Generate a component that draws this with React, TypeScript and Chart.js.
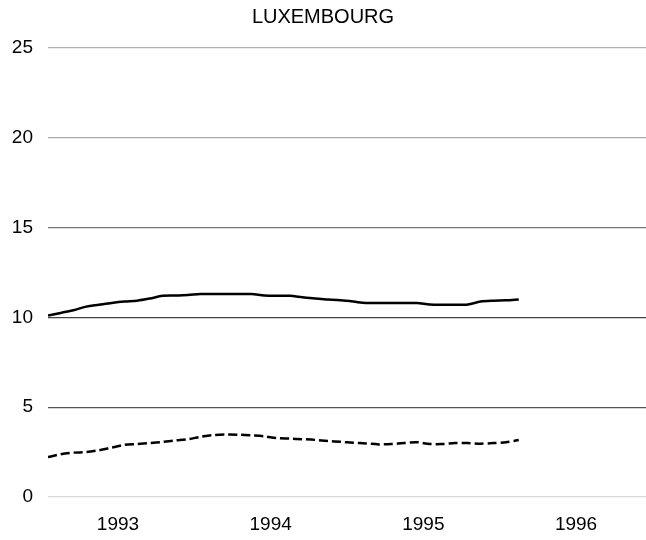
import React, { useEffect, useRef } from "react";
import { Chart, registerables } from "chart.js";

Chart.register(...registerables);

// Monthly observations, January 1993 to February 1996 (x = months since Jan 1993)
const solidValues = [
  10.1, 10.25, 10.4, 10.6, 10.7, 10.8, 10.88, 10.93, 11.05, 11.2,
  11.22, 11.25, 11.3, 11.3, 11.3, 11.3, 11.3, 11.22, 11.2, 11.2,
  11.12, 11.05, 11.0, 10.95, 10.88, 10.8, 10.8, 10.8, 10.8, 10.8,
  10.72, 10.7, 10.7, 10.72, 10.88, 10.93, 10.95, 11.0,
];
const dashedValues = [
  2.22, 2.38, 2.47, 2.5, 2.6, 2.75, 2.9, 2.95, 3.0, 3.07,
  3.15, 3.22, 3.35, 3.45, 3.48, 3.47, 3.43, 3.38, 3.28, 3.25,
  3.22, 3.18, 3.12, 3.07, 3.02, 2.98, 2.93, 2.95, 3.0, 3.05,
  2.95, 2.95, 3.0, 3.0, 2.97, 3.0, 3.05, 3.17,
];
const axisMonths = 47; // Jan 1993 .. Dec 1996
const yearTickPositions = [5.5, 17.5, 29.5, 41.5];
const yearTickLabels = ["1993", "1994", "1995", "1996"];
const yTicks = [0, 5, 10, 15, 20, 25];
const gridColors: Record<number, string> = {
  0: "#d8d8d8",
  5: "#555555",
  10: "#444444",
  15: "#777777",
  20: "#aaaaaa",
  25: "#b0b0b0",
};

const toPoints = (vals: number[]) => vals.map((v, i) => ({ x: i, y: v }));

export default function App() {
  const ref = useRef<HTMLCanvasElement | null>(null);
  useEffect(() => {
    if (!ref.current) return;
    const font = "'Liberation Sans', Arial, Helvetica, sans-serif";
    const chart = new Chart(ref.current, {
      type: "line",
      data: {
        datasets: [
          {
            data: toPoints(solidValues),
            borderColor: "#000",
            borderWidth: 2.5,
            pointRadius: 0,
            tension: 0.3,
          },
          {
            data: toPoints(dashedValues),
            borderColor: "#000",
            borderWidth: 2.5,
            borderDash: [9, 4],
            pointRadius: 0,
            tension: 0.3,
          },
        ],
      },
      options: {
        animation: false,
        responsive: false,
        layout: { padding: 0 },
        plugins: {
          legend: { display: false },
          tooltip: { enabled: false },
          title: {
            display: true,
            text: "LUXEMBOURG",
            color: "#000",
            font: { family: font, size: 20, weight: "normal", lineHeight: 1.2 },
            padding: { top: 5, bottom: 19 },
          },
        },
        scales: {
          x: {
            type: "linear",
            min: 0,
            max: axisMonths,
            grid: { display: false, drawTicks: false },
            border: { display: false },
            afterBuildTicks: (scale: any) => {
              scale.ticks = yearTickPositions.map((v) => ({ value: v }));
            },
            afterFit: (scale: any) => {
              scale.height = 43;
            },
            ticks: {
              autoSkip: false,
              maxRotation: 0,
              padding: 16,
              color: "#000",
              font: { family: font, size: 19 },
              callback: (v: any) => {
                const idx = yearTickPositions.indexOf(Number(v));
                return idx >= 0 ? yearTickLabels[idx] : "";
              },
            },
          },
          y: {
            min: 0,
            max: 25,
            afterBuildTicks: (scale: any) => {
              scale.ticks = yTicks.map((v) => ({ value: v }));
            },
            afterFit: (scale: any) => {
              scale.width = 48;
            },
            grid: {
              drawTicks: false,
              color: (ctx: any) => gridColors[ctx.tick?.value] ?? "#888",
              lineWidth: 1.2,
            },
            border: { display: false },
            ticks: {
              padding: 15,
              color: "#000",
              font: { family: font, size: 19 },
            },
          },
        },
      },
    } as any);
    return () => chart.destroy();
  }, []);
  return (
    <div style={{ position: "absolute", left: 0, top: 0, width: 646, height: 540, background: "#fff" }}>
      <canvas ref={ref} width={646} height={540} style={{ display: "block" }} />
    </div>
  );
}
